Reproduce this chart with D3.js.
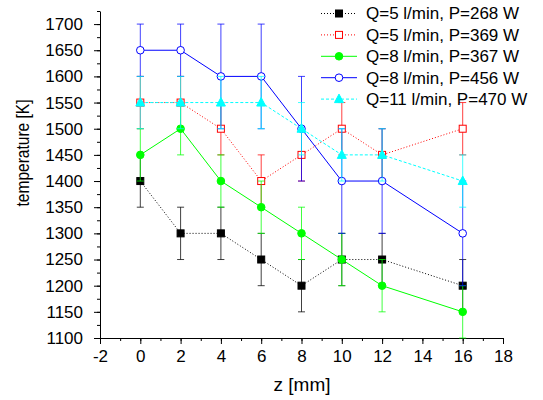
<!DOCTYPE html>
<html>
<head>
<meta charset="utf-8">
<script src="https://cdn.jsdelivr.net/npm/d3@7"></script>
<style>
  body { margin: 0; background: #fff; }
  text { font-family: Arial, "Liberation Sans", sans-serif; }
</style>
</head>
<body>
<div id="canvas"></div>
<script>
// data
const z = [0, 2, 4, 6, 8, 10, 12, 16];
const t268 = [1400, 1300, 1300, 1250, 1200, 1250, 1250, 1200];
const e268 = [50, 50, 50, 50, 50, 50, 50, 50];
const t369 = [1550, 1550, 1500, 1400, 1450, 1500, 1450, 1500];
const e369 = [50, 50, 50, 50, 50, 50, 50, 50];
const t367 = [1450, 1500, 1400, 1350, 1300, 1250, 1200, 1150];
const e367 = [50, 50, 50, 50, 50, 50, 50, 50];
const t456 = [1650, 1650, 1600, 1600, 1500, 1400, 1400, 1300];
const e456 = [50, 50, 100, 100, 100, 100, 100, 100];
const t470 = [1550, 1550, 1550, 1550, 1500, 1450, 1450, 1400];
const e470 = [50, 50, 50, 50, 50, 50, 50, 50];

const labels = [
  "Q=5 l/min, P=268 W",
  "Q=5 l/min, P=369 W",
  "Q=8 l/min, P=367 W",
  "Q=8 l/min, P=456 W",
  "Q=11 l/min, P=470 W"
];
const xTicks = [-2, 0, 2, 4, 6, 8, 10, 12, 14, 16, 18];
const yTicks = [1100, 1150, 1200, 1250, 1300, 1350, 1400, 1450, 1500, 1550, 1600, 1650, 1700];

const series = [
  { name: labels[0], t: t268, e: e268, color: "#000000", dash: "1,2", marker: "square", fill: true },
  { name: labels[1], t: t369, e: e369, color: "#ff0000", dash: "1,2", marker: "square", fill: false },
  { name: labels[2], t: t367, e: e367, color: "#00ff00", dash: null, marker: "circle", fill: true },
  { name: labels[3], t: t456, e: e456, color: "#0000ff", dash: null, marker: "circle", fill: false },
  { name: labels[4], t: t470, e: e470, color: "#00ffff", dash: "3,2", marker: "triangle", fill: true }
];

const width = 543;
const height = 400;
const fs = "17px";

const svg = d3.select("#canvas").append("svg")
  .attr("width", width)
  .attr("height", height);

const x = d3.scaleLinear().domain([-2, 18]).range([100, 503]);
const y = d3.scaleLinear().domain([1100, 1725]).range([338, 11]);

// axes
svg.append("g")
  .attr("transform", "translate(0,338)")
  .call(d3.axisBottom(x).tickValues(d3.range(-2, 18.5, 1)).tickSize(3).tickSizeOuter(0).tickFormat(""))
  .call((g) => g.select(".domain").remove());
svg.append("g")
  .attr("transform", "translate(0,338)")
  .call(d3.axisBottom(x).tickValues(xTicks).tickSize(6).tickSizeOuter(0).tickPadding(6)
    .tickFormat((d) => String(d)));

svg.append("g")
  .attr("transform", "translate(100,0)")
  .call(d3.axisLeft(y).tickValues(d3.range(1100, 1726, 25)).tickSize(3).tickSizeOuter(0).tickFormat(""))
  .call((g) => g.select(".domain").remove());
svg.append("g")
  .attr("transform", "translate(100,0)")
  .call(d3.axisLeft(y).tickValues(yTicks).tickSize(6).tickSizeOuter(0).tickPadding(11)
    .tickFormat((d) => String(d)));

svg.selectAll(".tick text").style("font-size", fs).attr("fill", "#000");
svg.selectAll(".domain, .tick line").attr("stroke", "#000");

svg.append("text")
  .attr("x", 302)
  .attr("y", 391)
  .attr("text-anchor", "middle")
  .style("font-size", "19px")
  .text("z [mm]");

svg.append("text")
  .attr("transform", "translate(29,153) rotate(-90)")
  .attr("text-anchor", "middle")
  .attr("textLength", 107)
  .attr("lengthAdjust", "spacingAndGlyphs")
  .style("font-size", "18px")
  .text("temperature [K]");

function drawMarker(g, s, cx, cy) {
  const fill = s.fill ? s.color : "#fff";
  if (s.marker === "square") {
    g.append("rect")
      .attr("x", cx - 3.5).attr("y", cy - 3.5)
      .attr("width", 7).attr("height", 7)
      .attr("fill", fill).attr("stroke", s.color).attr("stroke-width", 1);
  } else if (s.marker === "circle") {
    g.append("circle")
      .attr("cx", cx).attr("cy", cy).attr("r", 3.8)
      .attr("fill", fill).attr("stroke", s.color).attr("stroke-width", 1);
  } else {
    g.append("path")
      .attr("d", `M${cx},${cy - 5}L${cx + 4.5},${cy + 3.5}L${cx - 4.5},${cy + 3.5}Z`)
      .attr("fill", fill).attr("stroke", s.color).attr("stroke-width", 1);
  }
}

const line = d3.line().x((d) => x(d[0])).y((d) => y(d[1]));

series.forEach((s) => {
  const g = svg.append("g");
  const pts = z.map((v, i) => [v, s.t[i], s.e[i]]);

  // error bars
  pts.forEach((p) => {
    const px = x(p[0]);
    const top = y(p[1] + p[2]);
    const bot = y(p[1] - p[2]);
    g.append("line").attr("x1", px).attr("x2", px).attr("y1", top).attr("y2", bot)
      .attr("stroke", s.color).attr("stroke-opacity", 0.75);
    g.append("line").attr("x1", px - 3.5).attr("x2", px + 3.5).attr("y1", top).attr("y2", top)
      .attr("stroke", s.color).attr("stroke-opacity", 0.75);
    g.append("line").attr("x1", px - 3.5).attr("x2", px + 3.5).attr("y1", bot).attr("y2", bot)
      .attr("stroke", s.color).attr("stroke-opacity", 0.75);
  });

  g.append("path")
    .datum(pts)
    .attr("d", line)
    .attr("fill", "none")
    .attr("stroke", s.color)
    .attr("stroke-width", 1)
    .attr("stroke-dasharray", s.dash);

  pts.forEach((p) => drawMarker(g, s, x(p[0]), y(p[1])));
});

// legend
const legend = svg.append("g");
series.forEach((s, i) => {
  const ly = 13.5 + i * 21.4;
  legend.append("line")
    .attr("x1", 321).attr("x2", 357).attr("y1", ly).attr("y2", ly)
    .attr("stroke", s.color).attr("stroke-dasharray", s.dash);
  drawMarker(legend, s, 339, ly);
  legend.append("text")
    .attr("x", 366)
    .attr("y", ly)
    .attr("dy", "0.35em")
    .style("font-size", fs)
    .text(s.name);
});
</script>
</body>
</html>
